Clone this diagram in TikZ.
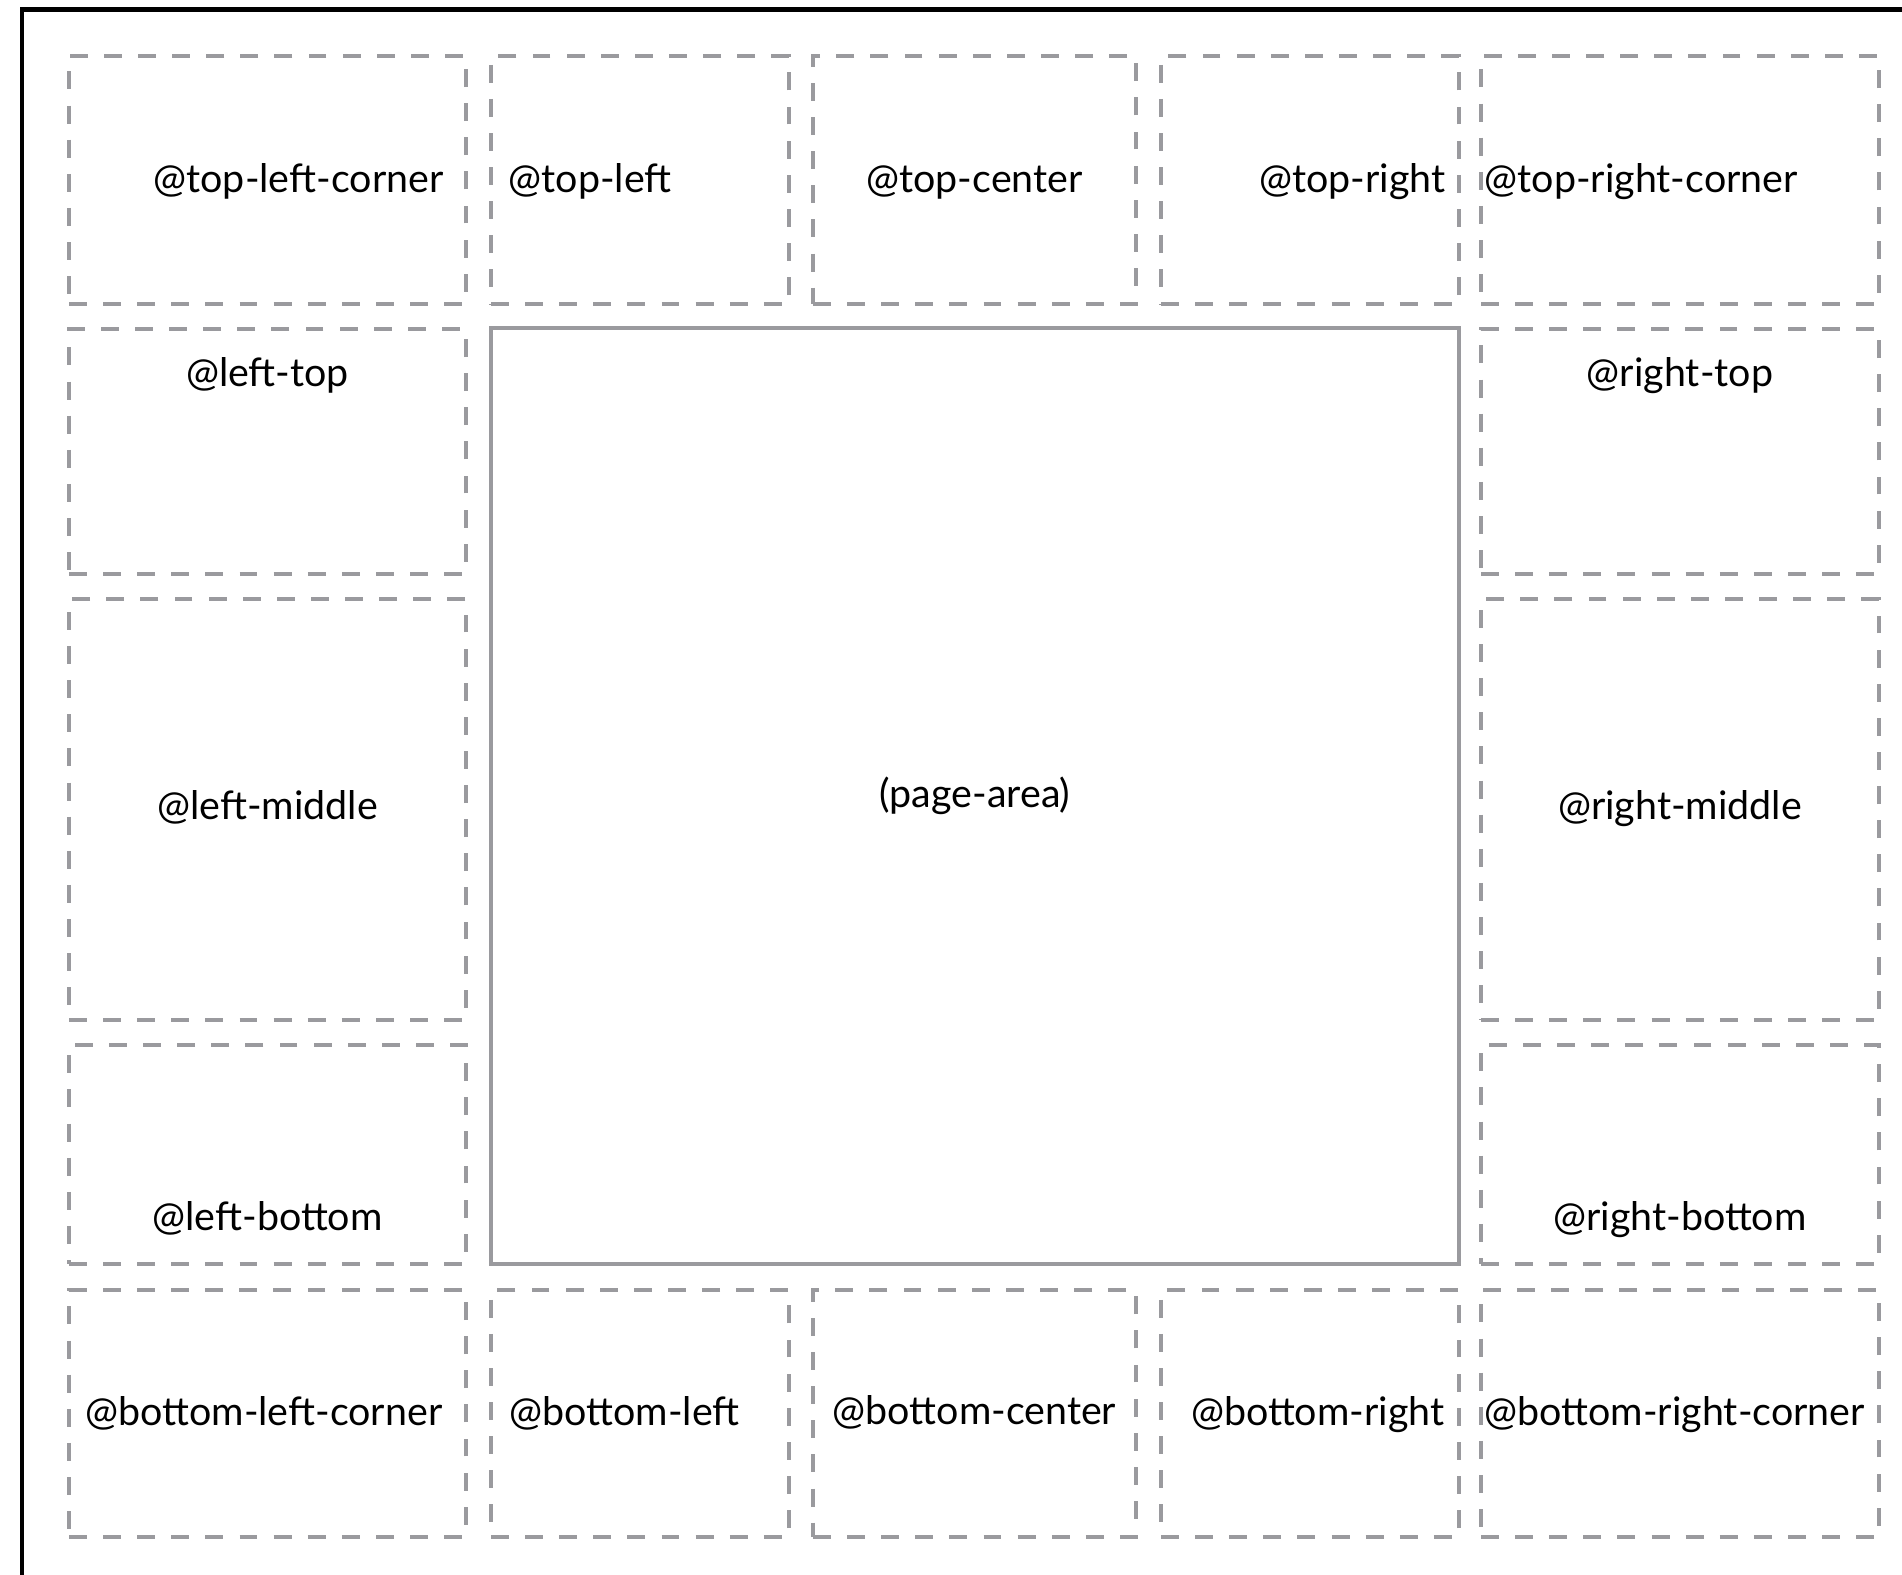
\documentclass[tikz,border=0pt]{standalone}
\usepackage{fontspec}
\setmainfont{Lato}
\usetikzlibrary{fit}
\definecolor{boxgray}{RGB}{154,154,158}
\tikzset{
  marginbox/.style={draw=boxgray, line width=1.2pt, dash pattern=on 5.1pt off 4.6pt, inner sep=0pt},
  pagebox/.style={draw=boxgray, line width=1.2pt, inner sep=0pt},
  sheet/.style={draw=black, line width=1.2pt, inner sep=0pt},
  boxlabel/.style={font=\fontsize{11.2pt}{13pt}\selectfont, inner sep=0pt},
}
\begin{document}
\begin{tikzpicture}[x=0.01cm,y=-0.01cm]
            \useasboundingbox (0,0) rectangle (1902,1575);
            \node[sheet, fit={(22,9.5) (1960,1620)}] (sheet) {};

            % top row
            \node[marginbox, fit={(69,56) (466,304)}] (tlc) {};
            \node[marginbox, fit={(491,56) (789,304)}] (tl) {};
            \node[marginbox, fit={(813,56) (1136,304)}] (tc) {};
            \node[marginbox, fit={(1161,56) (1459,304)}] (tr) {};
            \node[marginbox, fit={(1481,56) (1879,304)}] (trc) {};
            % left and right columns
            \node[marginbox, fit={(69,329) (466,574)}] (lt) {};
            \node[marginbox, fit={(69,599) (466,1020)}] (lm) {};
            \node[marginbox, fit={(69,1045) (466,1264)}] (lb) {};
            \node[marginbox, fit={(1481,329) (1879,574)}] (rt) {};
            \node[marginbox, fit={(1481,599) (1879,1020)}] (rm) {};
            \node[marginbox, fit={(1481,1045) (1879,1264)}] (rb) {};
            % bottom row
            \node[marginbox, fit={(69,1290) (466,1537)}] (blc) {};
            \node[marginbox, fit={(491,1290) (789,1537)}] (bl) {};
            \node[marginbox, fit={(813,1290) (1136,1537)}] (bc) {};
            \node[marginbox, fit={(1161,1290) (1459,1537)}] (br) {};
            \node[marginbox, fit={(1481,1290) (1879,1537)}] (brc) {};
            % page area
            \node[pagebox, fit={(491,328) (1459,1264)}] (pa) {};

            \node[boxlabel, anchor=base east] (tlcL) at (444,192) {@top-left-corner};
            \node[boxlabel, anchor=base west] (tlL) at (508,192) {@top-left};
            \node[boxlabel, anchor=base] (tcL) at (974.5,192) {@top-center};
            \node[boxlabel, anchor=base east] (trL) at (1446,192) {@top-right};
            \node[boxlabel, anchor=base west] (trcL) at (1484,192) {@top-right-corner};

            \node[boxlabel, anchor=base] (ltL) at (267.5,386) {@left-top};
            \node[boxlabel, anchor=base] (lmL) at (267.5,819) {@left-middle};
            \node[boxlabel, anchor=base] (lbL) at (267.5,1230) {@left-bottom};
            \node[boxlabel, anchor=base] (rtL) at (1680,386) {@right-top};
            \node[boxlabel, anchor=base] (rmL) at (1680,819) {@right-middle};
            \node[boxlabel, anchor=base] (rbL) at (1680,1230) {@right-bottom};

            \node[boxlabel, anchor=base east] (blcL) at (443,1425) {@bottom-left-corner};
            \node[boxlabel, anchor=base west] (blL) at (509,1425) {@bottom-left};
            \node[boxlabel, anchor=base] (bcL) at (974.5,1424) {@bottom-center};
            \node[boxlabel, anchor=base east] (brL) at (1445,1425) {@bottom-right};
            \node[boxlabel, anchor=base west] (brcL) at (1484,1425) {@bottom-right-corner};

            \node[boxlabel, anchor=base] (paL) at (975,807) {(page-area)};
        \end{tikzpicture}
\end{document}
